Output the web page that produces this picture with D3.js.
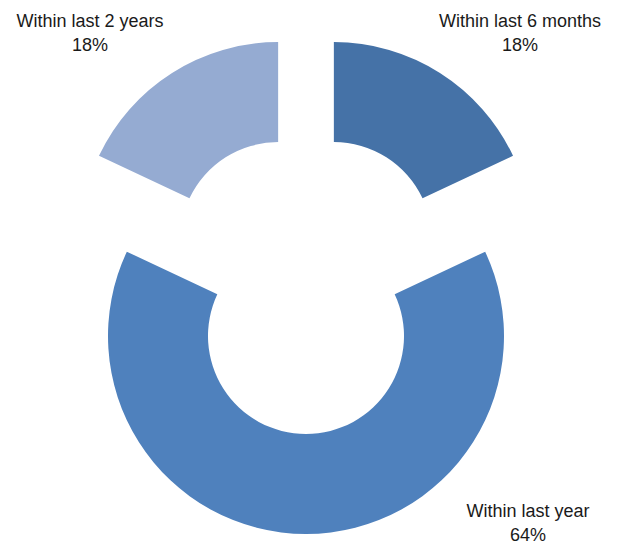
<html>
  <head>
    <meta charset="utf-8">
    <script src="https://d3js.org/d3.v7.min.js"></script>
  </head>
  <body style="margin:0;background:#ffffff">
    <svg width="624" height="544"></svg>
    <script>
      // chart data
      var categories = ["Within last 6 months", "Within last year", "Within last 2 years"];
      var shares = [18, 64, 18];
      var colors = ["#4572a7", "#4f81bd", "#95abd2"];

      var svg = d3.select("svg");
      var cx = 306, cy = 284,
          outerR = 198, innerR = 98,
          explode = 52;

      var pie = d3.pie().sort(null).value(function(d) { return d; });
      var arc = d3.arc().innerRadius(innerR).outerRadius(outerR);
      var arcs = pie(shares);

      var g = svg.append("g").attr("transform", "translate(" + cx + "," + cy + ")");

      g.selectAll("path")
        .data(arcs)
        .enter().append("path")
        .attr("d", arc)
        .attr("fill", function(d, i) { return colors[i]; })
        .attr("transform", function(d) {
          var a = (d.startAngle + d.endAngle) / 2;
          return "translate(" + (Math.sin(a) * explode) + "," + (-Math.cos(a) * explode) + ")";
        });

      // labels sit in the corners beside each slice
      var labelPos = [[214, -257], [222, 233], [-216, -257]];

      var lab = g.selectAll("text.lbl")
        .data(arcs)
        .enter().append("text")
        .attr("class", "lbl")
        .attr("text-anchor", "middle")
        .attr("font-family", "Liberation Sans, Arial, sans-serif")
        .attr("font-size", "18px")
        .attr("fill", "#1a1a1a")
        .attr("transform", function(d, i) { return "translate(" + labelPos[i][0] + "," + labelPos[i][1] + ")"; });

      lab.append("tspan").attr("x", 0).attr("dy", 0).text(function(d, i) { return categories[i]; });
      lab.append("tspan").attr("x", 0).attr("dy", 24).text(function(d) { return d.data + "%"; });
    </script>
  </body>
</html>
